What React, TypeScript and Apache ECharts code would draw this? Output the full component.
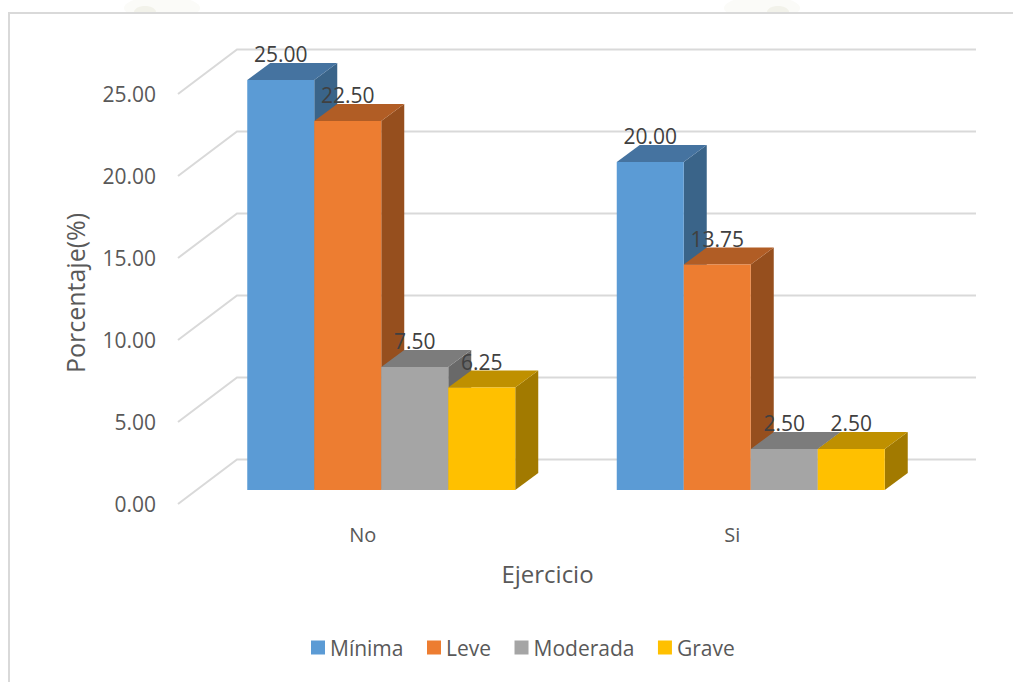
import React, { useEffect, useRef } from "react";
import * as echarts from "echarts";

const categories = ["No", "Si"];
const severities = ["Mínima", "Leve", "Moderada", "Grave"];
const minima = [25.0, 20.0];
const leve = [22.5, 13.75];
const moderada = [7.5, 2.5];
const grave = [6.25, 2.5];
const valueTicks = [0, 5, 10, 15, 20, 25];

const faceColors = ["#5B9BD5", "#ED7D31", "#A5A5A5", "#FFC000"];
const topColors = ["#4573A0", "#B15D25", "#7C7C7C", "#BF9000"];
const sideColors = ["#3A6489", "#964F1E", "#696969", "#A27A00"];

// Oblique projection of the plot's floor: wall offset and bar placement within the depth.
const WALL_DX = 59;
const WALL_DY = -44.5;
const BAR_DX = 18.5;
const BAR_DY = -14;
const DEPTH_DX = 23;
const DEPTH_DY = -17;
const BAR_W = 67;
const FONT = '"Open Sans", sans-serif';

function barSeries(name: string, values: number[], idx: number) {
  return {
    type: "custom",
    name,
    itemStyle: { color: faceColors[idx] },
    encode: { x: 0, y: 1 },
    data: values.map((v, i) => [i, v]),
    z: 5,
    renderItem: (_: unknown, api: any) => {
      const top = api.coord([api.value(0), api.value(1)]);
      const base = api.coord([api.value(0), 0]);
      const x0 = top[0] + BAR_DX + (idx - 2) * BAR_W;
      const x1 = x0 + BAR_W;
      const yt = top[1] + BAR_DY;
      const yb = base[1] + BAR_DY;
      return {
        type: "group",
        children: [
          {
            type: "polygon",
            shape: { points: [[x1, yt], [x1 + DEPTH_DX, yt + DEPTH_DY], [x1 + DEPTH_DX, yb + DEPTH_DY], [x1, yb]] },
            style: { fill: sideColors[idx] },
          },
          {
            type: "polygon",
            shape: { points: [[x0, yt], [x0 + DEPTH_DX, yt + DEPTH_DY], [x1 + DEPTH_DX, yt + DEPTH_DY], [x1, yt]] },
            style: { fill: topColors[idx] },
          },
          {
            type: "rect",
            shape: { x: x0, y: yt, width: BAR_W, height: yb - yt },
            style: { fill: faceColors[idx] },
          },
          {
            type: "text",
            style: {
              x: (x0 + x1) / 2,
              y: yt - 26,
              text: Number(api.value(1)).toFixed(2),
              fill: "#404040",
              font: `21px ${FONT}`,
              align: "center",
              verticalAlign: "middle",
            },
          },
        ],
      };
    },
  };
}

// Grid lines: an oblique run on the side wall, then a horizontal run along the back wall.
const wallSeries = {
  type: "custom",
  silent: true,
  z: 1,
  data: valueTicks.map((v) => [v]),
  encode: { y: 0 },
  renderItem: (params: any, api: any) => {
    const y = api.coord([0, api.value(0)])[1];
    const xLeft = params.coordSys.x;
    const xRight = xLeft + params.coordSys.width;
    return {
      type: "polyline",
      shape: {
        points: [
          [xLeft, y],
          [xLeft + WALL_DX, y + WALL_DY],
          [xRight + WALL_DX, y + WALL_DY],
        ],
      },
      style: { fill: "none", stroke: "#D9D9D9", lineWidth: 2 },
    };
  },
};

// Pale seal printed on the page behind the chart; only its lower edge shows above the frame.
function seal(cx: number, blobX: number) {
  return [
    { type: "ellipse", z: -3, shape: { cx, cy: 8, rx: 38, ry: 12 }, style: { fill: "#FBFBF8" } },
    { type: "ellipse", z: -2, shape: { cx: blobX, cy: 12, rx: 11, ry: 6 }, style: { fill: "#F2F2EA" } },
  ];
}

export default function App() {
  const ref = useRef<HTMLDivElement>(null);
  useEffect(() => {
    document.body.style.margin = "0";
    const chart = echarts.init(ref.current!, undefined, { renderer: "svg" });
    chart.setOption({
      animation: false,
      backgroundColor: "#ffffff",
      textStyle: { fontFamily: FONT },
      grid: { left: 178, top: 94, width: 739, height: 410 },
      legend: {
        left: 306,
        top: 632,
        itemWidth: 14,
        itemHeight: 14,
        itemGap: 23.5,
        icon: "rect",
        data: severities,
        textStyle: { color: "#595959", fontSize: 21, fontFamily: FONT },
      },
      xAxis: {
        type: "category",
        data: categories,
        axisLine: { show: false },
        axisTick: { show: false },
        axisLabel: { color: "#595959", fontSize: 20, margin: 20 },
        name: "Ejercicio",
        nameLocation: "middle",
        nameGap: 57,
        nameTextStyle: { color: "#595959", fontSize: 24 },
      },
      yAxis: {
        type: "value",
        min: 0,
        max: 25,
        interval: 5,
        axisLine: { show: false },
        axisTick: { show: false },
        splitLine: { show: false },
        axisLabel: { color: "#595959", fontSize: 21, margin: 22, formatter: (v: number) => v.toFixed(2) },
        name: "Porcentaje(%)",
        nameLocation: "middle",
        nameGap: 91,
        nameTextStyle: { color: "#595959", fontSize: 25, padding: [0, 0, 0, 12] },
      },
      graphic: [
        ...seal(162, 145),
        ...seal(762, 778),
        {
          type: "rect",
          z: -1,
          shape: { x: 9, y: 13, width: 1100, height: 800 },
          style: { fill: "#FFFFFF", stroke: "#D9D9D9", lineWidth: 2 },
        },
      ],
      series: [
        wallSeries,
        barSeries(severities[0], minima, 0),
        barSeries(severities[1], leve, 1),
        barSeries(severities[2], moderada, 2),
        barSeries(severities[3], grave, 3),
      ],
    });
    return () => chart.dispose();
  }, []);
  return <div ref={ref} style={{ width: 1013, height: 682 }} />;
}
